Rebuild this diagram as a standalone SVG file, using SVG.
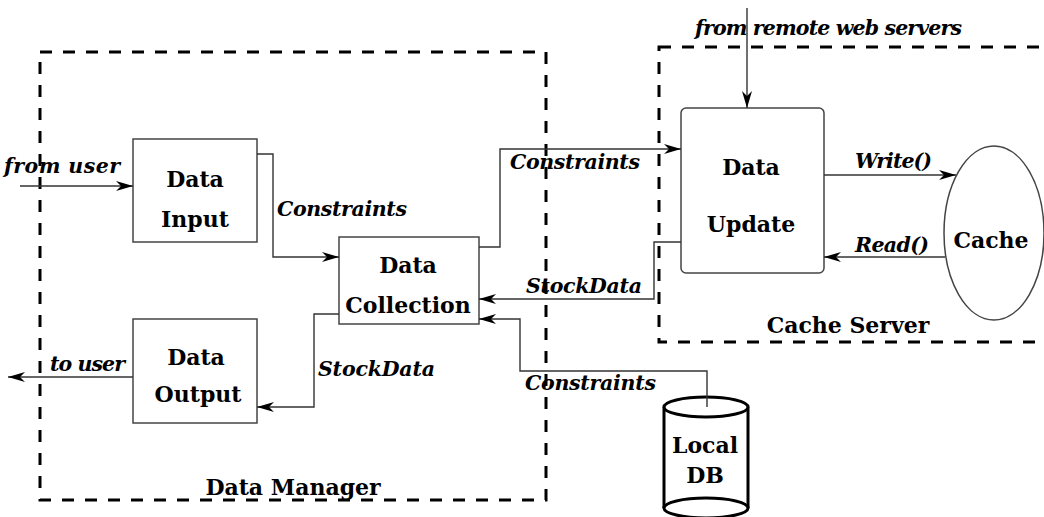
<svg xmlns="http://www.w3.org/2000/svg" width="1044" height="517" viewBox="0 0 1044 517">
<style>
.bg{fill:#fff}
.grp{fill:none;stroke:#000;stroke-width:3;stroke-dasharray:12 11}
.box{fill:#fff;stroke:#444;stroke-width:1.5}
.db{fill:#fff;stroke:#000;stroke-width:3}
.con{fill:none;stroke:#333;stroke-width:1.4}
.lbl{font-family:"DejaVu Serif",serif;font-weight:bold;font-size:22px;fill:#000;text-anchor:middle}
.it{font-family:"DejaVu Serif",serif;font-weight:bold;font-style:italic;font-size:20.5px;fill:#000}
</style>
<defs>
<marker id="ah" markerUnits="userSpaceOnUse" markerWidth="18" markerHeight="12" refX="17" refY="5" orient="auto">
<path d="M0,0 L17,5 L0,10 L5,5 z" fill="#000"/>
</marker>
</defs>
<rect class="bg" width="1044" height="517"/>
<g id="data-manager">
<rect class="grp" x="40" y="52" width="506" height="448"/>
<text class="lbl" x="293" y="495">Data Manager</text>
</g>
<g id="cache-server">
<rect class="grp" x="659" y="47" width="420" height="295"/>
<text class="lbl" x="848" y="333">Cache Server</text>
</g>
<g id="data-input">
<rect class="box" x="133" y="139" width="124" height="103"/>
<text class="lbl" x="195" y="187">Data</text>
<text class="lbl" x="195" y="227">Input</text>
</g>
<g id="data-output">
<rect class="box" x="133" y="319" width="124" height="104"/>
<text class="lbl" x="196" y="365">Data</text>
<text class="lbl" x="198" y="402">Output</text>
</g>
<g id="data-collection">
<rect class="box" x="339" y="237" width="140" height="87"/>
<text class="lbl" x="408" y="273">Data</text>
<text class="lbl" x="408" y="313">Collection</text>
</g>
<g id="data-update">
<rect class="box" x="681" y="108" width="143" height="165" rx="5"/>
<text class="lbl" x="751" y="175">Data</text>
<text class="lbl" x="751" y="232">Update</text>
</g>
<g id="cache">
<ellipse class="box" cx="994" cy="233" rx="50" ry="87" stroke="#000" stroke-width="1.2"/>
<text class="lbl" x="991" y="248">Cache</text>
</g>
<g id="local-db">
<path class="db" d="M664,407 V508 A42,10 0 0 0 748,508 V407"/>
<path class="db" d="M664,508 A42,10 0 0 1 748,508"/>
<ellipse class="db" cx="706" cy="407" rx="42" ry="10"/>
<text class="lbl" x="705" y="453">Local</text>
<text class="lbl" x="705" y="483">DB</text>
</g>
<g id="connectors">
<path class="con" d="M20,186 H133" marker-end="url(#ah)"/>
<path class="con" d="M133,377 H8" marker-end="url(#ah)"/>
<path class="con" d="M747,8 V108" marker-end="url(#ah)"/>
<path class="con" d="M257,154 H273 V257 H339" marker-end="url(#ah)"/>
<path class="con" d="M339,314 H314 V407 H257" marker-end="url(#ah)"/>
<path class="con" d="M479,247 H500 V149 H681" marker-end="url(#ah)"/>
<path class="con" d="M681,242 H654 V299 H479" marker-end="url(#ah)"/>
<path class="con" d="M707,407 V371 H520 V319 H479" marker-end="url(#ah)"/>
<path class="con" d="M824,175 H956" marker-end="url(#ah)"/>
<path class="con" d="M945,257 H824" marker-end="url(#ah)"/>
<text class="it" x="695" y="35" textLength="267">from remote web servers</text>
<text class="it" x="4" y="173" textLength="116">from user</text>
<text class="it" x="277" y="216" textLength="130">Constraints</text>
<text class="it" x="510" y="169" textLength="130">Constraints</text>
<text class="it" x="526" y="293" textLength="116">StockData</text>
<text class="it" x="855" y="168" textLength="77">Write()</text>
<text class="it" x="855" y="252" textLength="74">Read()</text>
<text class="it" x="50" y="371" textLength="75">to user</text>
<text class="it" x="318" y="376" textLength="117">StockData</text>
<text class="it" x="525" y="390" textLength="131">Constraints</text>
</g>
</svg>
